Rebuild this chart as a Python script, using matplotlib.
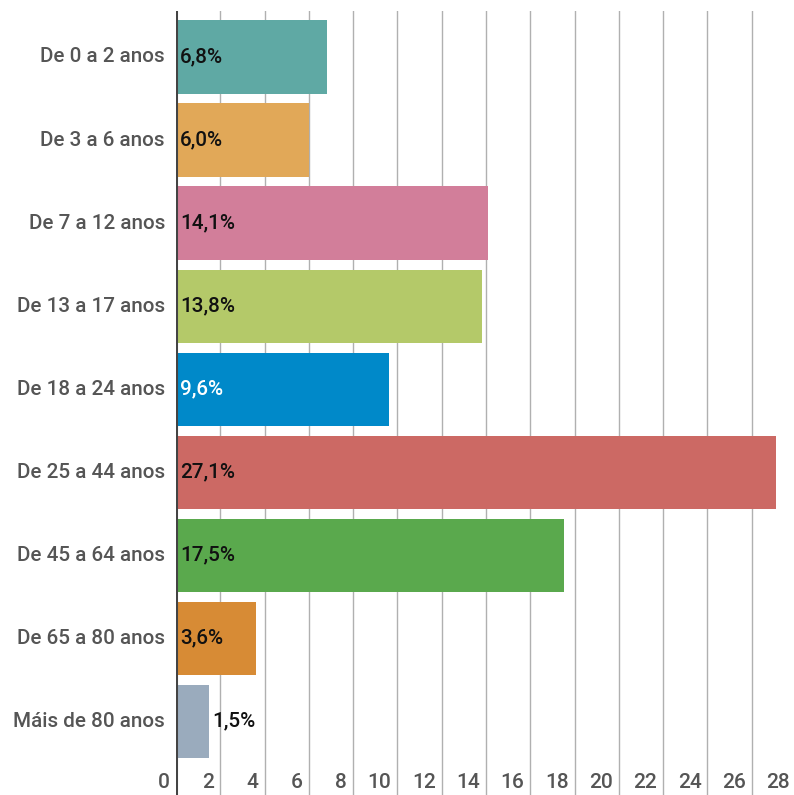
import matplotlib
matplotlib.use("Agg")
import matplotlib.pyplot as plt
import matplotlib.transforms as mtransforms

categories = ["De 0 a 2 anos", "De 3 a 6 anos", "De 7 a 12 anos", "De 13 a 17 anos",
              "De 18 a 24 anos", "De 25 a 44 anos", "De 45 a 64 anos", "De 65 a 80 anos",
              "Máis de 80 anos"]
values = [6.8, 6.0, 14.1, 13.8, 9.6, 27.1, 17.5, 3.6, 1.5]
labels = ["6,8%", "6,0%", "14,1%", "13,8%", "9,6%", "27,1%", "17,5%", "3,6%", "1,5%"]
colors = ["#5fa9a4", "#e1a858", "#d27e9a", "#b4c969", "#0089c9", "#cc6964",
          "#5aa94d", "#d78b35", "#9aabbd"]
label_colors = ["#111111", "#111111", "#111111", "#111111", "#ffffff", "#111111",
                "#111111", "#111111", "#111111"]
xticks = list(range(0, 29, 2))

plt.rcParams['font.family'] = ['Roboto', 'DejaVu Sans']

fig = plt.figure(figsize=(7.94, 7.95), dpi=100)
W, H = 794, 795
ax = fig.add_axes([176 / W, 0, (796 - 176) / W, (795 - 11) / H])

ypos = list(range(len(categories)))
ax.barh(ypos, values, height=0.88, color=colors, zorder=2)
ax.set_xlim(0, 28)
ax.set_ylim(8.89, -0.554)

for x in xticks[1:]:
    ax.axvline(x, color="#b0b0b0", lw=1, zorder=1)
ax.axvline(0, color="#444444", lw=2.2, zorder=3)

for s in ax.spines.values():
    s.set_visible(False)
ax.set_xticks([])
ax.set_yticks([])

FS = 14.9

# category labels
for y, c in zip(ypos, categories):
    ax.text(-0.5, y, c, ha="right", va="center", fontsize=FS, fontweight="medium",
            color="#555555")

# value labels
for y, v, lab, lc in zip(ypos, values, labels, label_colors):
    if v < 3:
        ax.text(v + 0.14, y, lab, ha="left", va="center", fontsize=FS,
                fontweight="medium", color="#111111", zorder=4)
    else:
        ax.text(0.18, y, lab, ha="left", va="center", fontsize=FS,
                fontweight="medium", color=lc, zorder=4)

# x tick labels (inside bottom, right-aligned left of gridline)
trans = mtransforms.blended_transform_factory(ax.transData, ax.transAxes)
off = mtransforms.ScaledTranslation(-6 / 100, 0, fig.dpi_scale_trans)
for x in xticks:
    ax.text(x, 12 / (795 - 11), str(x), transform=trans + off, ha="right", va="center",
            fontsize=15, fontweight="medium", color="#555555", zorder=4)

fig.savefig("out.png", dpi=100)
